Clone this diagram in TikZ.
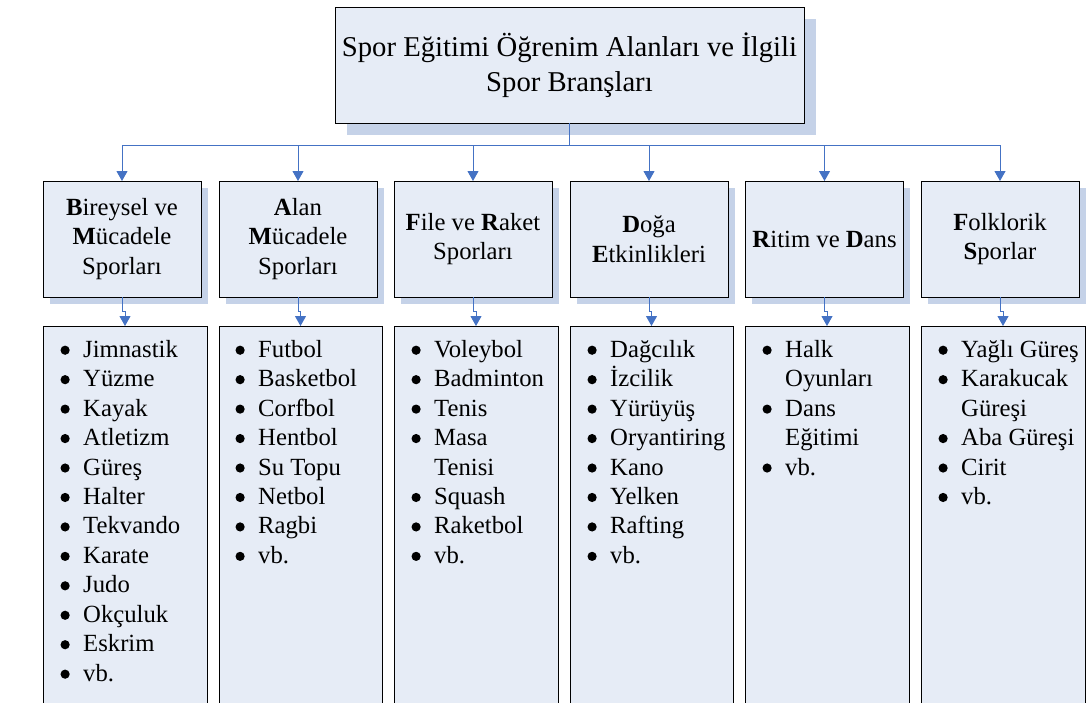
\documentclass[tikz,border=0pt]{standalone}
\usepackage{fontspec}
\setmainfont{Liberation Serif}
\usetikzlibrary{arrows.meta,shadows}
\definecolor{boxfill}{RGB}{230,236,246}
\definecolor{shadowc}{RGB}{197,210,232}
\definecolor{linkblue}{RGB}{68,114,196}
\newcommand\blt{\strut\llap{\tikz[baseline=0pt]\fill[black] (0pt,7pt) circle (4.6pt);\hspace{13.5pt}}}
\begin{document}
\begin{tikzpicture}[x=1pt,y=-1pt,
  titlebox/.style={draw=black,line width=1pt,fill=boxfill,outer sep=0pt,inner sep=0pt,
    minimum width=469pt,minimum height=116pt,anchor=north west,align=center,
    font=\fontsize{28.7}{35}\selectfont,
    drop shadow={shadow xshift=12pt,shadow yshift=-12pt,fill=shadowc,opacity=1}},
  catbox/.style={draw=black,line width=1pt,fill=boxfill,outer sep=0pt,inner sep=0pt,
    minimum width=158pt,minimum height=116pt,anchor=north west,align=center,
    font=\fontsize{24.7}{29.5}\selectfont,
    drop shadow={shadow xshift=6.5pt,shadow yshift=-6.5pt,fill=shadowc,opacity=1}},
  listbox/.style={draw=black,line width=1pt,fill=boxfill,outer sep=0pt,inner sep=0pt,
    minimum width=164pt,minimum height=400pt,anchor=north west},
  listtxt/.style={anchor=north west,align=left,inner sep=0pt,
    font=\fontsize{24.7}{29.45}\selectfont},
  conn/.style={draw=linkblue,line width=1pt},
  tip/.style={-{Triangle[width=11pt,length=10pt]}}
]
\useasboundingbox (0,0) rectangle (1087,702);
\clip (0,0) rectangle (1087,702);
\fill[white] (0,0) rectangle (1087,702);

% title
\node[titlebox] (top) at (335,7) {Spor Eğitimi Öğrenim Alanları ve İlgili\\Spor Branşları};

% categories
\node[catbox] (c1) at (43,181)  {\textbf{B}ireysel ve\\\textbf{M}ücadele\\Sporları};
\node[catbox] (c2) at (219,181) {\textbf{A}lan\\\textbf{M}ücadele\\Sporları};
\node[catbox] (c3) at (394,181) {\textbf{F}ile ve \textbf{R}aket\\Sporları};
\node[catbox] (c4) at (570,181) {\textbf{D}oğa\\\textbf{E}tkinlikleri};
\node[catbox] (c5) at (745.5,181) {\textbf{R}itim ve \textbf{D}ans};
\node[catbox] (c6) at (921,181) {\textbf{F}olklorik\\\textbf{S}porlar};

% list boxes
\node[listbox] (l1) at (43,326) {};
\node[listbox,minimum width=163pt] (l2) at (219,326) {};
\node[listbox] (l3) at (394,326) {};
\node[listbox,minimum width=163pt] (l4) at (570,326) {};
\node[listbox] (l5) at (745,326) {};
\node[listbox] (l6) at (921,326) {};

% list texts (first baseline 31pt below box top; strut height 0.7*29.45)
\node[listtxt] (t1) at ([shift={(40,10.4)}]l1.north west)
  {\blt Jimnastik\\\blt Yüzme\\\blt Kayak\\\blt Atletizm\\\blt Güreş\\\blt Halter\\\blt Tekvando\\\blt Karate\\\blt Judo\\\blt Okçuluk\\\blt Eskrim\\\blt vb.};
\node[listtxt] (t2) at ([shift={(39,10.4)}]l2.north west)
  {\blt Futbol\\\blt Basketbol\\\blt Corfbol\\\blt Hentbol\\\blt Su Topu\\\blt Netbol\\\blt Ragbi\\\blt vb.};
\node[listtxt] (t3) at ([shift={(40,10.4)}]l3.north west)
  {\blt Voleybol\\\blt Badminton\\\blt Tenis\\\blt Masa\\Tenisi\\\blt Squash\\\blt Raketbol\\\blt vb.};
\node[listtxt] (t4) at ([shift={(40,10.4)}]l4.north west)
  {\blt Dağcılık\\\blt İzcilik\\\blt Yürüyüş\\\blt Oryantiring\\\blt Kano\\\blt Yelken\\\blt Rafting\\\blt vb.};
\node[listtxt] (t5) at ([shift={(40,10.4)}]l5.north west)
  {\blt Halk\\Oyunları\\\blt Dans\\Eğitimi\\\blt vb.};
\node[listtxt] (t6) at ([shift={(40,10.4)}]l6.north west)
  {\blt Yağlı Güreş\\\blt Karakucak\\Güreşi\\\blt Aba Güreşi\\\blt Cirit\\\blt vb.};

% connectors
\draw[conn] (top.south) -- ++(0,22) coordinate (bus);
\draw[conn] (bus -| c1.north) -- (bus -| c6.north);
\foreach \c in {c1,c2,c3,c4,c5,c6}{
  \draw[conn,tip] (bus -| \c.north) -- (\c.north);
}
\foreach \c/\l in {c1/l1,c2/l2,c3/l3,c4/l4,c5/l5,c6/l6}{
  \draw[conn,tip] (\c.south) -- ++(0,14) -| (\l.north);
}
\end{tikzpicture}
\end{document}
